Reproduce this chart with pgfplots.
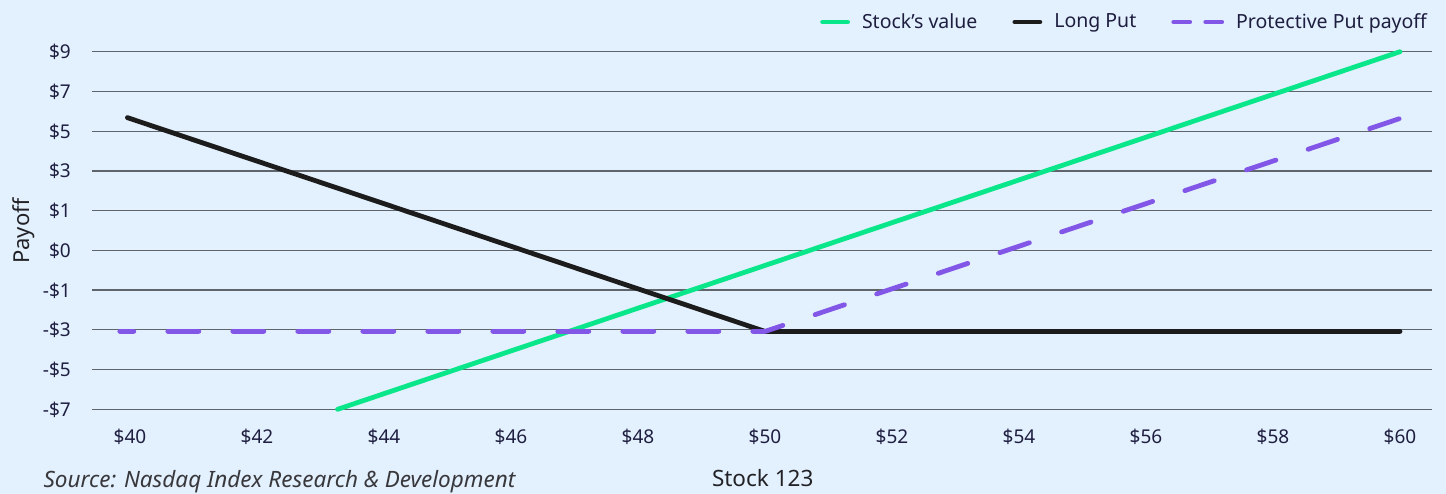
\documentclass[border=0pt]{standalone}
\usepackage{fontspec}
\setmainfont{Noto Sans}
\usepackage{pgfplots}
\pgfplotsset{compat=1.18}

\definecolor{bgc}{HTML}{E3F0FD}
\definecolor{gridc}{HTML}{5F656B}
\definecolor{stockc}{HTML}{0AE68A}
\definecolor{putc}{HTML}{1C1C1C}
\definecolor{protc}{HTML}{8257E8}
\definecolor{txtc}{HTML}{1E1E40}
\definecolor{lblc}{HTML}{222226}
\definecolor{srcc}{HTML}{38383C}

% legend sample with two short dashes for the protective put
\pgfplotsset{
  protlegend/.style={
    legend image code/.code={\draw[##1, dash pattern=on 16pt off 16pt, dash phase=0pt] (0pt,0pt) -- (48pt,0pt);}
  }
}

\begin{document}
\fontsize{19pt}{23pt}\selectfont
\begin{tikzpicture}
% page background
\fill[bgc] (-92pt,-84.7pt) rectangle (1354pt,409.3pt);
\begin{axis}[
  at={(0pt,0pt)}, anchor=south west,
  scale only axis, width=1340pt, height=357.6pt,
  xmin=39.402, xmax=60.504, ymin=0, ymax=9,
  clip=false,
  axis line style={draw=none},
  major tick length=0pt,
  xtick={40,42,...,60},
  xticklabels={\$40,\$42,\$44,\$46,\$48,\$50,\$52,\$54,\$56,\$58,\$60},
  ytick={0,...,9},
  yticklabels={-\$7,-\$5,-\$3,-\$1,\$0,\$1,\$3,\$5,\$7,\$9},
  ymajorgrids,
  grid style={line width=1.3pt, draw=gridc},
  tick label style={font=\fontsize{19pt}{23pt}\selectfont, text=txtc, inner sep=0pt},
  xticklabel style={anchor=base, yshift=-34.7pt},
  yticklabel style={anchor=base east, xshift=-21pt, yshift=-7pt},
  legend columns=3,
  legend image code/.code={\draw[#1] (0pt,0pt) -- (25pt,0pt);},
  legend style={
    draw=none, fill=none, inner sep=0pt,
    at={(rel axis cs:0.9963,1.083)}, anchor=east,
    font=\fontsize{19.5pt}{23pt}\selectfont, text=txtc,
    nodes={inner sep=0pt},
    /tikz/every odd column/.append style={column sep=12pt},
    /tikz/every even column/.append style={column sep=35pt},
  },
  legend cell align=left,
]
% stock value, long put and the combined position
\addplot[stockc, line width=4.8pt, line cap=round] coordinates {(43.27,0) (60,9)};
\addlegendentry{Stock’s value}
\addplot[putc, line width=4.8pt, line cap=round, line join=round]
  coordinates {(39.96,7.34) (50,1.96) (60,1.96)};
\addlegendentry{Long Put}
\addplot[protc, line width=4.8pt, line cap=round, line join=round,
  dash pattern=on 31pt off 34pt, dash phase=17pt, protlegend]
  coordinates {(39.84,1.96) (50,1.96) (60,7.32)};
\addlegendentry{Protective Put payoff}
\end{axis}
% axis titles and source note
\node[rotate=90, text=lblc, anchor=base, font=\fontsize{22pt}{26pt}\selectfont] at (-62.7pt,178.3pt) {Payoff};
\node[text=lblc, anchor=base, font=\fontsize{22.5pt}{27pt}\selectfont] at (670.7pt,-77.4pt) {Stock 123};
\node[text=srcc, anchor=base west, font=\fontsize{22.5pt}{27pt}\selectfont\itshape] at (-55pt,-78.2pt) {Source: Nasdaq Index Research \& Development};
\pgfresetboundingbox
\path (-92pt,-84.7pt) rectangle (1354pt,409.3pt);
\end{tikzpicture}
\end{document}
